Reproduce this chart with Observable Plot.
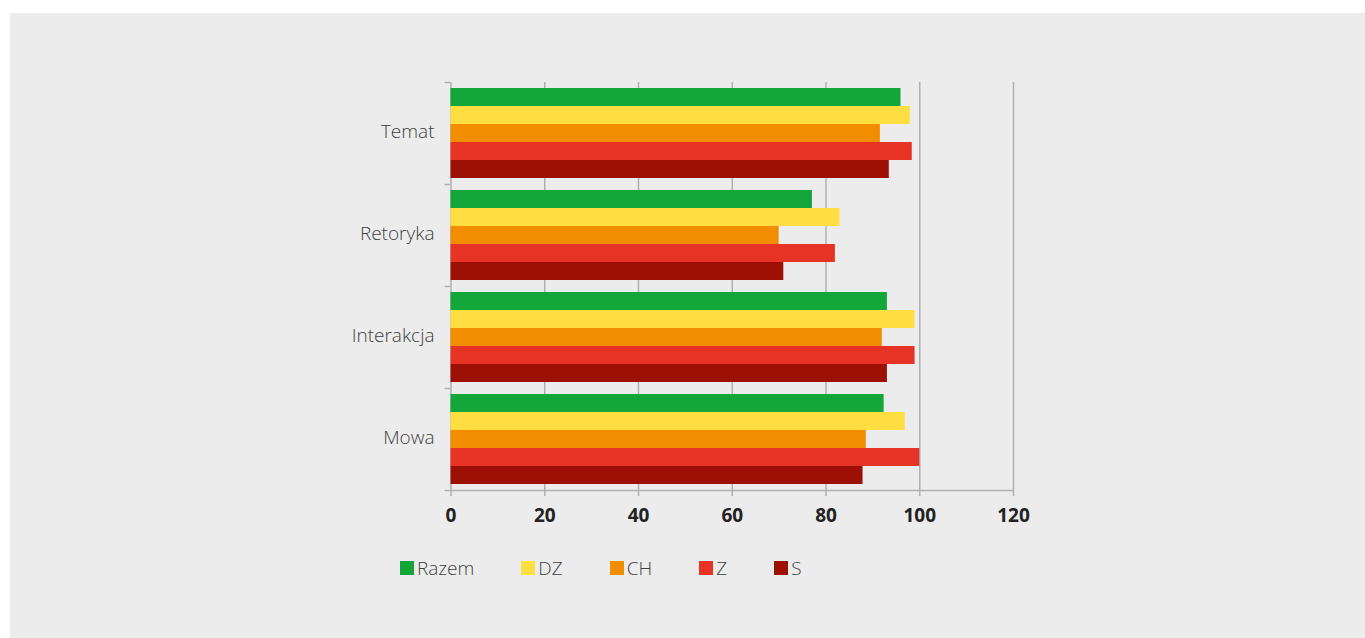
<!DOCTYPE html>
<html>
<head>
<meta charset="utf-8">
<script src="https://cdn.jsdelivr.net/npm/d3@7"></script>
<script src="https://cdn.jsdelivr.net/npm/@observablehq/plot@0.6"></script>
<style>
  html, body { margin: 0; padding: 0; background: #fff; }
  #panel {
    position: absolute; left: 10px; top: 13px; width: 1355px; height: 625px;
    background: #ececec; font-family: "Open Sans", sans-serif;
  }
  #chart { position: absolute; left: 0; top: 0; }
  #legend {
    position: absolute; left: 390px; top: 545px; display: flex; align-items: center;
    font-size: 19px; font-weight: 300; color: #3f3f3f; line-height: 20px;
  }
  .item { display: flex; align-items: center; margin-right: 47px; }
  .sw { width: 14px; height: 14px; margin-right: 3px; }
</style>
</head>
<body>
<div id="panel">
  <div id="chart"></div>
  <div id="legend"></div>
</div>
<script>
// Categories (one facet each) and the five series drawn inside every category
const categories = ["Temat", "Retoryka", "Interakcja", "Mowa"];
const series = ["Razem", "DZ", "CH", "Z", "S"];
const colors = ["#15a63a", "#ffde42", "#f28d00", "#e63325", "#9c1006"];

// Values per series, in the order of `categories`
const razem = [96.0, 77.1, 93.1, 92.4];
const dz    = [98.0, 83.0, 99.0, 96.9];
const ch    = [91.6, 70.0, 92.0, 88.6];
const z     = [98.4, 82.0, 99.0, 100.0];
const s     = [93.5, 71.0, 93.1, 87.9];

const xTicks = [0, 20, 40, 60, 80, 100, 120];

// Long table for Plot
const valuesBySeries = [razem, dz, ch, z, s];
const rows = [];
categories.forEach((c, i) => {
  series.forEach((sr, j) => rows.push({category: c, series: sr, value: valuesBySeries[j][i]}));
});

const axisGray = "#b0b0b0";

const chart = Plot.plot({
  width: 1355,
  height: 517,
  marginLeft: 440.5,
  marginRight: 352,
  marginTop: 69,
  marginBottom: 40,
  style: {background: "transparent", fontFamily: "'Open Sans', sans-serif", overflow: "visible"},
  x: {domain: [0, 120]},
  y: {domain: series, paddingInner: 0, paddingOuter: 1 / 3, round: false, axis: null},
  fy: {domain: categories, padding: 0, round: false, axis: null},
  color: {domain: series, range: colors},
  marks: [
    Plot.gridX(xTicks, {stroke: axisGray, strokeOpacity: 1, strokeWidth: 1.5}),
    Plot.barX(rows, {x: "value", y: "series", fy: "category", fill: "series"}),
    // short ticks on the category axis at the top of every category band
    Plot.ruleY(categories, {
      fy: (d) => d, y: () => series[0], x1: 0, x2: 0, insetLeft: -6, dy: -15,
      stroke: axisGray, strokeWidth: 1.5
    }),
    // horizontal axis line below the last category
    Plot.ruleY(categories.slice(-1), {
      fy: (d) => d, y: () => series[series.length - 1], x1: 0, x2: 120, insetLeft: -6, dy: 15,
      stroke: axisGray, strokeWidth: 1.5
    }),
    Plot.axisX(xTicks, {
      anchor: "bottom", tickSize: 6, tickPadding: 12, fontSize: 19, fontWeight: 700,
      fill: "#222", stroke: axisGray, strokeWidth: 1.5, label: null
    }),
    Plot.axisFy({
      anchor: "left", tickSize: 0, tickPadding: 16.5, fontSize: 19, fontWeight: 300,
      fill: "#3f3f3f", dy: -2, label: null
    })
  ]
});
document.getElementById("chart").appendChild(chart);

// Legend
const legend = document.getElementById("legend");
series.forEach((name, i) => {
  const item = document.createElement("div");
  item.className = "item";
  const sw = document.createElement("span");
  sw.className = "sw";
  sw.style.background = colors[i];
  const label = document.createElement("span");
  label.textContent = name;
  item.appendChild(sw);
  item.appendChild(label);
  legend.appendChild(item);
});
</script>
</body>
</html>
